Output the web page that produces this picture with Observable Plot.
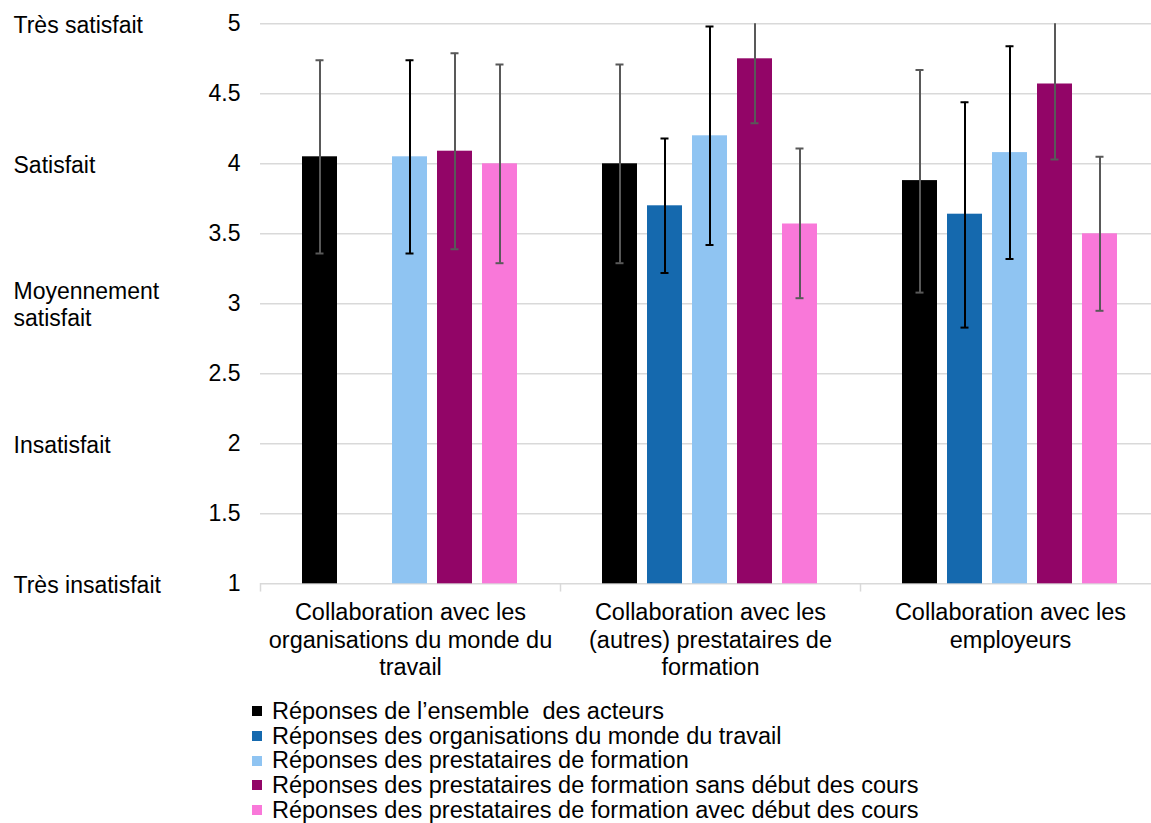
<!DOCTYPE html>
<html>
<head>
<meta charset="utf-8">
<script src="https://cdn.jsdelivr.net/npm/d3@7"></script>
<script src="https://cdn.jsdelivr.net/npm/@observablehq/plot@0.6"></script>
<style>
  body { margin: 0; background: #fff; font-family: "Liberation Sans", Arial, sans-serif; }
  #chart { position: relative; width: 1151px; height: 823px; overflow: hidden; }
  #legend { position: absolute; left: 252px; top: 699px; font-size: 23.5px; line-height: 24.7px; color: #000; }
  #legend .row { display: flex; align-items: center; white-space: pre; }
  #legend .sw { width: 10px; height: 10px; margin-right: 10px; flex: none; }
</style>
</head>
<body>
<div id="chart"><div id="legend"></div></div>
<script>
// ---- data ----
const categories = [
  "Collaboration avec les organisations du monde du travail",
  "Collaboration avec les (autres) prestataires de formation",
  "Collaboration avec les employeurs"
];
const categoryLabels = [
  "Collaboration avec les\norganisations du monde du\ntravail",
  "Collaboration avec les\n(autres) prestataires de\nformation",
  "Collaboration avec les\nemployeurs"
];
const series = [
  "Réponses de l’ensemble  des acteurs",
  "Réponses des organisations du monde du travail",
  "Réponses des prestataires de formation",
  "Réponses des prestataires de formation sans début des cours",
  "Réponses des prestataires de formation avec début des cours"
];
const valEnsemble = [4.05, 4.00, 3.88];
const lowEnsemble = [3.36, 3.29, 3.08];
const highEnsemble = [4.74, 4.71, 4.67];

const valOmt = [null, 3.70, 3.64];
const lowOmt = [null, 3.22, 2.83];
const highOmt = [null, 4.18, 4.44];

const valPrest = [4.05, 4.20, 4.08];
const lowPrest = [3.36, 3.42, 3.32];
const highPrest = [4.74, 4.98, 4.84];

const valSans = [4.09, 4.75, 4.57];
const lowSans = [3.39, 4.29, 4.03];
const highSans = [4.79, 5.21, 5.10];

const valAvec = [4.00, 3.57, 3.50];
const lowAvec = [3.29, 3.04, 2.95];
const highAvec = [4.71, 4.11, 4.05];

const yTicks = [1, 1.5, 2, 2.5, 3, 3.5, 4, 4.5, 5];
const levelValues = [5, 4, 3, 2, 1];
const levelLabels = ["Très satisfait", "Satisfait", "Moyennement\nsatisfait", "Insatisfait", "Très insatisfait"];

// ---- styles ----
const colors = ["#000000", "#1569AE", "#8FC4F2", "#920567", "#F978D9"];
const errStroke = ["#595959", "#000000", "#000000", "#595959", "#595959"];

// ---- table ----
const vals = [valEnsemble, valOmt, valPrest, valSans, valAvec];
const lows = [lowEnsemble, lowOmt, lowPrest, lowSans, lowAvec];
const highs = [highEnsemble, highOmt, highPrest, highSans, highAvec];
const data = [];
categories.forEach((g, gi) => {
  series.forEach((s, si) => {
    if (vals[si][gi] != null) {
      data.push({group: g, series: s, si, value: vals[si][gi], low: lows[si][gi], high: highs[si][gi]});
    }
  });
});
const grayErr = data.filter(d => errStroke[d.si] !== "#000000");
const blackErr = data.filter(d => errStroke[d.si] === "#000000");

const errMarks = (arr, col) => [
  Plot.ruleX(arr, {fx: "group", x: "series", y1: "low", y2: "high", stroke: col, strokeWidth: 2, clip: true}),
  Plot.tickY(arr, {fx: "group", x: "series", y: "low", stroke: col, strokeWidth: 2, insetLeft: 13.5, insetRight: 13.5, clip: true}),
  Plot.tickY(arr, {fx: "group", x: "series", y: "high", stroke: col, strokeWidth: 2, insetLeft: 13.5, insetRight: 13.5, clip: true})
];

const chart = Plot.plot({
  width: 1151,
  height: 700,
  marginLeft: 260,
  marginRight: -9,
  marginTop: 23.3,
  marginBottom: 116.7,
  style: {fontFamily: "'Liberation Sans', Arial, sans-serif", fontSize: "23px", color: "#000", background: "#fff", overflow: "hidden"},
  fx: {domain: categories, padding: 0, label: null},
  x: {domain: series, paddingInner: 0.217, paddingOuter: 0.87, axis: null},
  y: {domain: [1, 5], label: null},
  color: {domain: series, range: colors},
  marks: [
    Plot.gridY(yTicks, {stroke: "#d9d9d9", strokeOpacity: 1, strokeWidth: 1.5}),
    Plot.frame({anchor: "left", stroke: "#d9d9d9", strokeWidth: 1.5, insetTop: 560, insetBottom: -7}),
    Plot.barY(data, {fx: "group", x: "series", y1: 1, y2: "value", fill: "series"}),
    ...errMarks(grayErr, "#595959"),
    ...errMarks(blackErr, "#000000"),
    Plot.axisY(yTicks, {tickSize: 0, tickPadding: 20, tickFormat: d => String(d), fontSize: 23, label: null}),
    Plot.axisY(levelValues, {tickSize: 0, tickPadding: 0, dx: -247, textAnchor: "start",
      tickFormat: d => levelLabels[levelValues.indexOf(d)], lineHeight: 1.2, fontSize: 23, label: null}),
    Plot.axisFx({anchor: "bottom", tickSize: 0, tickPadding: 17, lineHeight: 1.17, fontSize: 23.5, label: null,
      tickFormat: d => categoryLabels[categories.indexOf(d)]})
  ]
});
const holder = document.getElementById("chart");
holder.insertBefore(chart, holder.firstChild);

// legend
const legend = document.getElementById("legend");
series.forEach((s, i) => {
  const row = document.createElement("div");
  row.className = "row";
  const sw = document.createElement("span");
  sw.className = "sw";
  sw.style.background = colors[i];
  const t = document.createElement("span");
  t.textContent = s;
  row.appendChild(sw);
  row.appendChild(t);
  legend.appendChild(row);
});
</script>
</body>
</html>
